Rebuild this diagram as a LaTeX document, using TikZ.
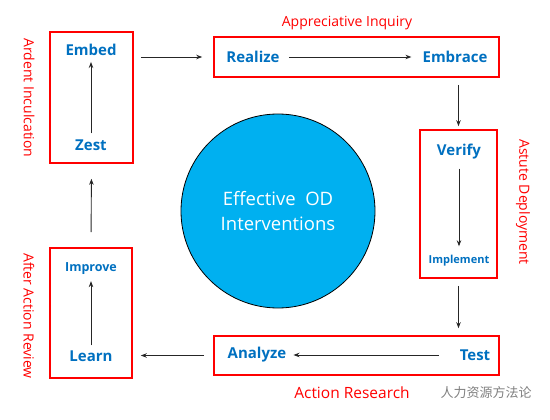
\documentclass[tikz,border=0pt]{standalone}
\usepackage{fontspec}
\setmainfont{Open Sans}
\newfontfamily\cjk{Noto Sans CJK SC}
\usetikzlibrary{arrows.meta}
\definecolor{stepblue}{HTML}{0070C0}
\definecolor{hubcyan}{HTML}{00B0F0}
\definecolor{arrowgray}{HTML}{262626}
\tikzset{
    redbox/.style={draw=red, line width=1.6pt, inner sep=0pt},
    steptext/.style={text=stepblue, font=\bfseries\fontsize{15}{18}\selectfont, inner sep=1pt},
    phase/.style={text=red, font=\fontsize{14}{16}\selectfont, inner sep=0pt},
    flow/.style={draw=arrowgray, line width=0.9pt, -{Stealth[length=6pt,width=4.5pt]}}
}
\begin{document}
\begin{tikzpicture}[x=1pt, y=-1pt]
    \useasboundingbox (0,0) rectangle (550,420);
    % boxes
    \node[redbox, minimum width=83pt, minimum height=131pt] (ltbox) at (91.5,97.5) {};
    \node[redbox, minimum width=285pt, minimum height=40pt] (topbox) at (356.5,57) {};
    \node[redbox, minimum width=77pt, minimum height=148pt] (rtbox) at (458.5,204) {};
    \node[redbox, minimum width=285pt, minimum height=39pt] (botbox) at (356.5,355.5) {};
    \node[redbox, minimum width=82pt, minimum height=130pt] (lbbox) at (91,313) {};
    % hub
    \node[circle, draw=black, line width=0.8pt, fill=hubcyan, minimum size=194pt,
          text=white, align=center, font=\fontsize{18.5}{25}\selectfont] (hub) at (278,211)
          {Effective\ \ OD\\Interventions};
    % step texts
    \node[steptext] (embed) at (91,50) {Embed};
    \node[steptext] (zest) at (91,145) {Zest};
    \node[steptext] (realize) at (253,57) {Realize};
    \node[steptext] (embrace) at (455,57) {Embrace};
    \node[steptext] (verify) at (459,152) {Verify};
    \node[steptext, font=\bfseries\fontsize{11}{13}\selectfont] (implement) at (459,261) {Implement};
    \node[steptext] (test) at (475,355) {Test};
    \node[steptext] (analyze) at (257,355) {Analyze};
    \node[steptext] (learn) at (91,356) {Learn};
    \node[steptext, font=\bfseries\fontsize{12.5}{15}\selectfont] (improve) at (91,269) {Improve};
    % phase labels
    \node[phase] (appreciative) at (347,23) {Appreciative Inquiry};
    \node[phase, rotate=-90] (astute) at (523,202) {Astute Deployment};
    \node[phase, font=\fontsize{15.5}{18}\selectfont] (action) at (352,393) {Action Research};
    \node[phase, rotate=-90] (afteraction) at (29,316) {After Action Review};
    \node[phase, rotate=-90] (ardent) at (29,98) {Ardent Inculcation};
    \node[text=gray, font=\cjk\fontsize{13}{15}\selectfont] (mark) at (486,393) {人力资源方法论};
    % arrows inside boxes
    \draw[flow, shorten <=5pt, shorten >=5pt] (zest) -- (embed);
    \draw[flow, shorten <=8pt, shorten >=10pt] (realize) -- (embrace);
    \draw[flow, shorten <=8pt, shorten >=8pt] (verify) -- (implement);
    \draw[flow, shorten <=20pt, shorten >=6pt] (test) -- (analyze);
    \draw[flow, shorten <=4pt, shorten >=5pt] (learn) -- (improve);
    % arrows between boxes
    \draw[flow, shorten <=7pt, shorten >=11pt] (ltbox.east |- realize) -- (topbox.west |- realize);
    \draw[flow, shorten <=7pt, shorten >=3pt] (rtbox.north |- topbox.south) -- (rtbox.north);
    \draw[flow, shorten <=7pt, shorten >=7pt] (rtbox.south) -- (rtbox.south |- botbox.north);
    \draw[flow, shorten <=9pt, shorten >=8pt] (botbox.west) -- (lbbox.east |- botbox.west);
    \draw[flow, shorten <=15pt, shorten >=15pt] (lbbox.north) -- (ltbox.south);
\end{tikzpicture}
\end{document}
